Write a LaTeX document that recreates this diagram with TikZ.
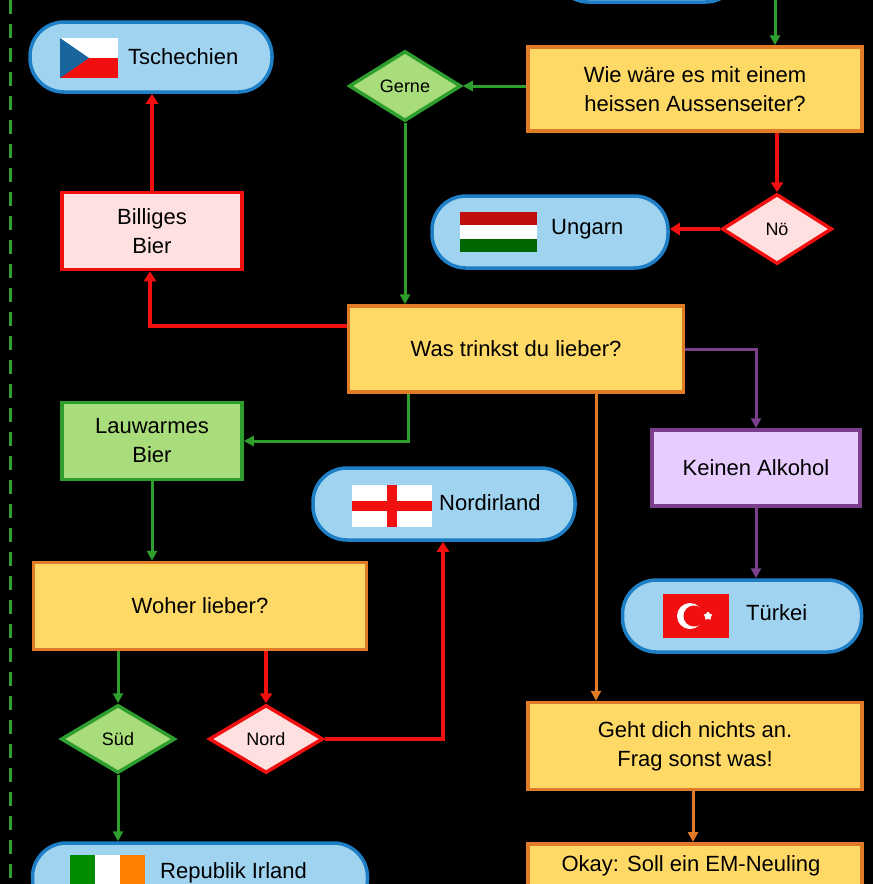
\documentclass[tikz,border=0pt]{standalone}
\usepackage{fontspec}
\setmainfont{Liberation Sans}
\usetikzlibrary{shapes.geometric,arrows.meta}
\definecolor{yel}{HTML}{FFD966}\definecolor{ora}{HTML}{E07B28}
\definecolor{lblue}{HTML}{9FD3F0}\definecolor{dblue}{HTML}{1F7FC6}
\definecolor{lgreen}{HTML}{A9DC7A}\definecolor{dgreen}{HTML}{2E9E2E}
\definecolor{lred}{HTML}{FFE0E0}\definecolor{dred}{HTML}{F01010}
\definecolor{lpur}{HTML}{E6CCFF}\definecolor{dpur}{HTML}{7B3F8C}
\tikzset{
 txt/.style={font=\fontsize{22}{29}\selectfont,align=center,inner sep=0pt},
 ybox/.style={txt,draw=ora,fill=yel,line width=3.5pt},
 pill/.style={txt,draw=dblue,fill=lblue,line width=3.5pt,rounded corners=34pt},
 dia/.style={diamond,draw,line width=3.5pt,font=\fontsize{18}{21}\selectfont,inner sep=0pt,aspect=1.6},
 arr/.style={line width=3pt,-{Triangle[width=10pt,length=10pt]}},
 rarr/.style={line width=4.5pt,-{Triangle[width=12pt,length=10pt]},dred},
}
\begin{document}
\begin{tikzpicture}[x=1pt,y=-1pt]
\fill[black] (0,0) rectangle (873,884);
\clip (0,0) rectangle (873,884);
\draw[dgreen,line width=3pt,dash pattern=on 14pt off 10pt] (10,0)--(10,884);
% nodes
\node[pill,minimum width=185pt,minimum height=60pt] (top) at (647,-28) {};
\node[ybox,minimum width=334pt,minimum height=84pt] (wie) at (695,89) {Wie wäre es mit einem\\heissen Aussenseiter?};
\node[dia,draw=dgreen,fill=lgreen,minimum width=112pt,minimum height=70pt] (gerne) at (405,86) {Gerne};
\node[pill,minimum width=242pt,minimum height=70pt] (cz) at (151,57) {};
\node[txt,anchor=west] at (128,57) {Tschechien};
\node[txt,draw=dred,fill=lred,line width=3.5pt,minimum width=180pt,minimum height=77pt] (bb) at (152,231) {Billiges\\Bier};
\node[dia,draw=dred,fill=lred,minimum width=110pt,minimum height=70pt] (noe) at (777,229) {Nö};
\node[pill,minimum width=236pt,minimum height=72pt] (hu) at (550,232) {};
\node[txt,anchor=west] at (551,229) {Ungarn};
\node[ybox,minimum width=335pt,minimum height=86pt] (was) at (516,349) {Was trinkst du lieber?};
\node[txt,draw=dgreen,fill=lgreen,line width=3.5pt,minimum width=180pt,minimum height=77pt] (lb) at (152,441) {Lauwarmes\\Bier};
\node[txt,draw=dpur,fill=lpur,line width=3.5pt,minimum width=208pt,minimum height=76pt] (ka) at (756,468) {Keinen Alkohol};
\node[pill,minimum width=239pt,minimum height=72pt] (tr) at (742,616) {};
\node[txt,anchor=west] at (746,613) {Türkei};
\node[pill,minimum width=262pt,minimum height=72pt] (ni) at (444,504) {};
\node[txt,anchor=west] at (439,503) {Nordirland};
\node[ybox,minimum width=333pt,minimum height=87pt] (wo) at (200,606) {Woher lieber?};
\node[dia,draw=dgreen,fill=lgreen,minimum width=114pt,minimum height=68pt] (sued) at (118,739) {Süd};
\node[dia,draw=dred,fill=lred,minimum width=114pt,minimum height=68pt] (nord) at (266,739) {Nord};
\node[pill,minimum width=335pt,minimum height=70pt] (ie) at (200,878) {};
\node[txt,anchor=west] at (160,873) {Republik Irland};
\node[ybox,minimum width=334pt,minimum height=87pt] (geht) at (695,746) {Geht dich nichts an.\\Frag sonst was!};
\node[ybox,minimum width=334pt,minimum height=80pt,anchor=north] (okay) at (695,842) {};
\node[txt] at (691,866) {Okay: Soll ein EM-Neuling};
% flags
\fill[white] (60,38) rectangle (118,58);\fill[dred] (60,58) rectangle (118,78);
\fill[dblue!80!black] (60,38)--(89,58)--(60,78)--cycle;
\fill[dred!80!black] (460,212) rectangle (537,225);\fill[white] (460,225) rectangle (537,239);\fill[green!40!black] (460,239) rectangle (537,252);
\fill[white] (352,485) rectangle (432,527);\fill[dred] (387,485) rectangle (397,527);\fill[dred] (352,501) rectangle (432,511);
\fill[dred] (663,594) rectangle (729,638);\fill[white] (690,616) circle (13pt);\fill[dred] (694,616) circle (10.5pt);
\node[star,star points=5,fill=white,inner sep=0pt,minimum size=9pt] at (708,616) {};
\fill[green!55!black] (70,855) rectangle (95,900);\fill[white] (95,855) rectangle (120,900);\fill[orange] (120,855) rectangle (145,900);
% connectors
\draw[arr,dgreen] (775,0)--(wie.north-|775,0);
\draw[arr,dgreen] (wie.west|-gerne)--(gerne.east);
\draw[rarr] (bb.north)--(cz.south-|bb.north);
\draw[rarr] (wie.south-|noe)--(noe.north);
\draw[rarr] (noe.west)--(hu.east|-noe);
\draw[arr,dgreen] (gerne.south)--(was.north-|gerne.south);
\draw[rarr] (was.west|-0,326)--(150,326)--(bb.south-|150,0);
\draw[arr,dgreen] (was.south-|408,0)--(408,441)--(lb.east);
\draw[arr,dpur] (was.east)--(ka.north|-was.east)--(ka.north);
\draw[arr,dpur] (ka.south)--(tr.north-|ka.south);
\draw[arr,ora] (was.south-|596,0)--(geht.north-|596,0);
\draw[arr,ora] (geht.south-|693,0)--(okay.north-|693,0);
\draw[arr,dgreen] (lb.south)--(wo.north-|lb.south);
\draw[arr,dgreen] (wo.south-|sued)--(sued.north);
\draw[rarr] (wo.south-|nord)--(nord.north);
\draw[rarr] (nord.east)--(443,739)--(ni.south-|443,0);
\draw[arr,dgreen] (sued.south)--(ie.north-|sued.south);
\end{tikzpicture}
\end{document}
